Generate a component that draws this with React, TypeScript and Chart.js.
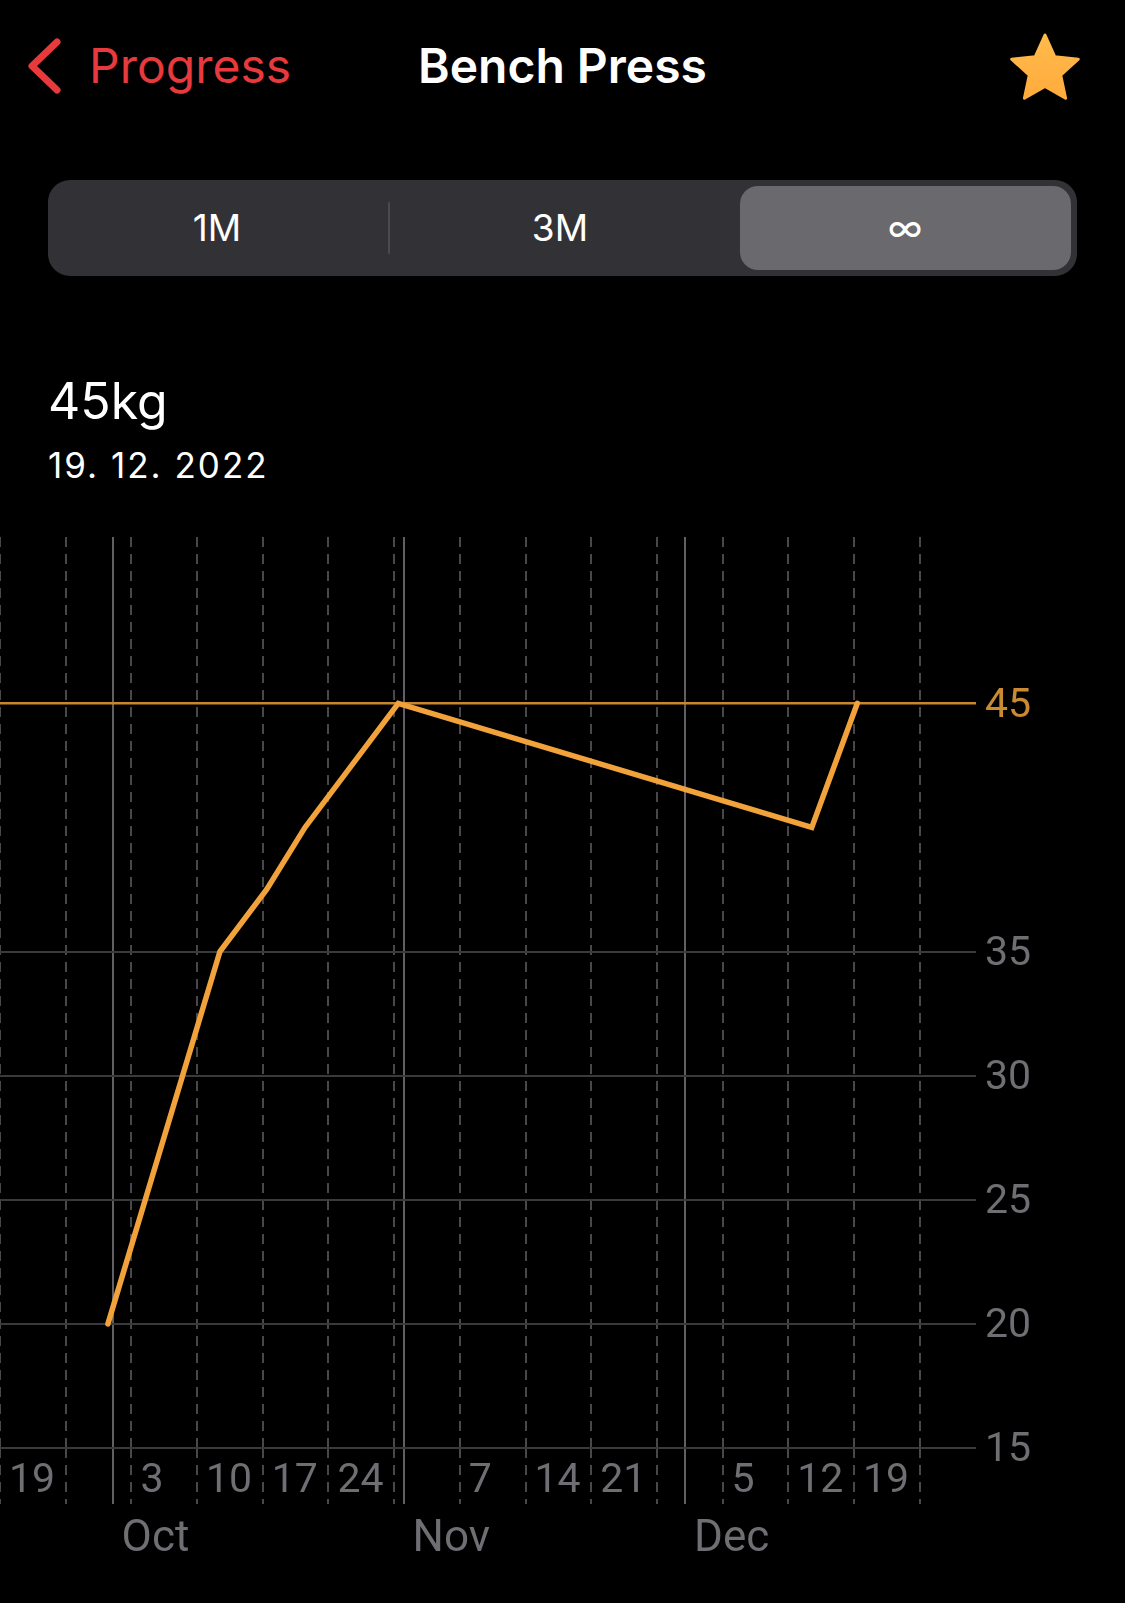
import React, { useEffect, useRef } from 'react';
import { Chart, registerables } from 'chart.js';

Chart.register(...registerables);

// ---- data ----
const AXIS_START = '2022-09-19';
const AXIS_END = '2023-01-01';
const sessionDates = [
  '2022-09-30T12:00',
  '2022-10-12T10:30',
  '2022-10-17T10:00',
  '2022-10-21T12:00',
  '2022-10-31T10:30',
  '2022-12-14T12:00',
  '2022-12-19T08:30',
];
const weights = [20, 35, 37.5, 40, 45, 40, 45];
const weekDates = [
  '2022-09-19', '2022-09-26', '2022-10-03', '2022-10-10', '2022-10-17',
  '2022-10-24', '2022-10-31', '2022-11-07', '2022-11-14', '2022-11-21',
  '2022-11-28', '2022-12-05', '2022-12-12', '2022-12-19', '2022-12-26',
];
const weekLabels = ['19', '', '3', '10', '17', '24', '', '7', '14', '21', '', '5', '12', '19', ''];
const monthDates = ['2022-10-01', '2022-11-01', '2022-12-01'];
const monthLabels = ['Oct', 'Nov', 'Dec'];
const yTicks = [15, 20, 25, 30, 35, 45];
const Y_MIN = 15;
const Y_MAX = 51.7;
const bestWeight = 45;

function toMs(s: string): number {
  const [d, t] = s.split('T');
  const [y, m, dd] = d.split('-').map(Number);
  let h = 0, mi = 0;
  if (t) { [h, mi] = t.split(':').map(Number); }
  return Date.UTC(y, m - 1, dd, h, mi);
}
const startMs = toMs(AXIS_START);
const dayIndex = (s: string) => (toMs(s) - startMs) / 86400000;

const weekDays = weekDates.map(dayIndex);
const monthDays = monthDates.map(dayIndex);
const allTickDays = [...weekDays, ...monthDays].sort((a, b) => a - b);
const isMonth = (v: any) => monthDays.some((m) => Math.abs(m - v) < 1e-6);
const labelFor = (v: number): string | string[] => {
  const mi = monthDays.findIndex((m) => Math.abs(m - v) < 1e-6);
  if (mi >= 0) return ['', monthLabels[mi]];
  const wi = weekDays.findIndex((w) => Math.abs(w - v) < 1e-6);
  return wi >= 0 ? weekLabels[wi] : '';
};

const FONT = 'Inter, "Noto Sans", sans-serif';
const AXIS_FONT = 'Roboto, Inter, sans-serif';
const DASH = [10, 7];
const LABEL_GRAY = '#6e6e73';
const ORANGE_LINE = '#c8872e';
const WEEK_LINE = '#48484b';
const MONTH_LINE = '#605f64';

const CANVAS_TOP = 487;
const CANVAS_H = 1603 - CANVAS_TOP;

export default function App() {
  const ref = useRef<HTMLCanvasElement>(null);

  useEffect(() => {
    const points = sessionDates.map((d, i) => ({ x: dayIndex(d), y: weights[i] }));
    const chart = new Chart(ref.current!, {
      type: 'line',
      data: {
        datasets: [
          {
            data: points,
            borderColor: '#f2a23a',
            borderWidth: 5.5,
            pointRadius: 0,
            tension: 0,
            fill: false,
            borderCapStyle: 'round',
            borderJoinStyle: 'miter',
          },
        ],
      },
      options: {
        animation: false,
        responsive: false,
        events: [],
        layout: { padding: { top: 50, left: 0, right: 0, bottom: 0 } },
        plugins: { legend: { display: false }, tooltip: { enabled: false } },
        scales: {
          x: {
            type: 'linear',
            position: 'bottom',
            min: 0,
            max: dayIndex(AXIS_END),
            afterBuildTicks: (s: any) => {
              s.ticks = allTickDays.map((v) => ({ value: v }));
            },
            afterFit: (s: any) => {
              s.height = 1603 - 1448;
            },
            grid: {
              color: (c: any) => (isMonth(c.tick?.value) ? MONTH_LINE : WEEK_LINE),
              lineWidth: 2,
              drawTicks: true,
              tickLength: 56,
              tickWidth: 2,
              tickColor: (c: any) => (isMonth(c.tick?.value) ? MONTH_LINE : WEEK_LINE),
              tickBorderDash: (c: any) => (isMonth(c.tick?.value) ? [] : DASH),
            },
            border: {
              display: false,
              dash: (c: any) => (isMonth(c.tick?.value) ? [] : DASH),
            },
            ticks: {
              autoSkip: false,
              maxRotation: 0,
              minRotation: 0,
              align: 'start',
              labelOffset: 9,
              padding: -51,
              color: LABEL_GRAY,
              font: (c: any) => ({
                family: AXIS_FONT,
                size: isMonth(c.tick?.value) ? 44 : 41,
                lineHeight: '58px',
              }),
              callback: (v: any) => labelFor(Number(v)),
            },
          },
          y: {
            type: 'linear',
            position: 'right',
            min: Y_MIN,
            max: Y_MAX,
            afterBuildTicks: (s: any) => {
              s.ticks = yTicks.map((v) => ({ value: v }));
            },
            afterFit: (s: any) => {
              s.width = 1125 - 976;
            },
            grid: {
              color: (c: any) => (c.tick?.value === bestWeight ? ORANGE_LINE : '#3a3a3d'),
              lineWidth: (c: any) => (c.tick?.value === bestWeight ? 2.5 : 2),
              drawTicks: false,
            },
            border: { display: false },
            ticks: {
              padding: 9,
              labelOffset: 3,
              color: (c: any) => (c.tick?.value === bestWeight ? '#c98a32' : LABEL_GRAY),
              font: { family: AXIS_FONT, size: 41 },
              callback: (v: any) => String(v),
            },
          },
        },
      } as any,
    });
    return () => chart.destroy();
  }, []);

  const starPts = (() => {
    const cx = 1045, cy = 70, R = 35, r = 16.5;
    const pts: string[] = [];
    for (let i = 0; i < 10; i++) {
      const a = -Math.PI / 2 + (i * Math.PI) / 5;
      const rad = i % 2 === 0 ? R : r;
      pts.push(`${(cx + rad * Math.cos(a)).toFixed(1)},${(cy + rad * Math.sin(a)).toFixed(1)}`);
    }
    return pts.join(' ');
  })();

  const abs = (s: React.CSSProperties): React.CSSProperties => ({ position: 'absolute', ...s });

  return (
    <div
      style={{
        position: 'fixed',
        left: 0,
        top: 0,
        width: 1125,
        height: 1603,
        background: '#000',
        overflow: 'hidden',
        fontFamily: FONT,
        color: '#fff',
      }}
    >
      <svg width={1125} height={140} style={abs({ left: 0, top: 0 })}>
        <polyline
          points="57,42 32,66 57,90"
          fill="none"
          stroke="#e8393c"
          strokeWidth={7}
          strokeLinecap="round"
          strokeLinejoin="round"
        />
        <defs>
          <linearGradient id="sg" x1="0" y1="0" x2="0" y2="1">
            <stop offset="0" stopColor="#ffbb4c" />
            <stop offset="1" stopColor="#ffab3c" />
          </linearGradient>
        </defs>
        <polygon points={starPts} fill="url(#sg)" stroke="url(#sg)" strokeWidth={3} strokeLinejoin="round" />
      </svg>
      <div style={abs({ left: 89, top: 42, fontSize: 48, lineHeight: '48px', color: '#e8393c' })}>Progress</div>
      <div
        style={abs({
          left: 0,
          width: 1125,
          top: 42,
          textAlign: 'center',
          fontSize: 48,
          lineHeight: '48px',
          fontWeight: 600,
        })}
      >
        Bench Press
      </div>

      <div style={abs({ left: 48, top: 180, width: 1029, height: 96, borderRadius: 22, background: '#323236' })} />
      <div style={abs({ left: 740, top: 186, width: 331, height: 84, borderRadius: 18, background: '#69696e' })} />
      <div style={abs({ left: 388, top: 202, width: 2, height: 52, background: '#4a4a4f', borderRadius: 1 })} />
      {[
        { t: '1M', cx: 217 },
        { t: '3M', cx: 560 },
        { t: '∞', cx: 905 },
      ].map((s) => (
        <div
          key={s.t}
          style={abs({
            left: s.cx - 100,
            width: 200,
            top: 209,
            textAlign: 'center',
            fontSize: 37,
            lineHeight: '37px',
            fontWeight: 400,
          })}
        >
          {s.t}
        </div>
      ))}

      <div style={abs({ left: 48, top: 376, fontSize: 50, lineHeight: '50px' })}>45kg</div>
      <div style={abs({ left: 48, top: 448, fontSize: 35, lineHeight: '35px', letterSpacing: 2 })}>19. 12. 2022</div>

      <canvas
        ref={ref}
        width={1125}
        height={CANVAS_H}
        style={abs({ left: 0, top: CANVAS_TOP, width: 1125, height: CANVAS_H })}
      />
    </div>
  );
}
